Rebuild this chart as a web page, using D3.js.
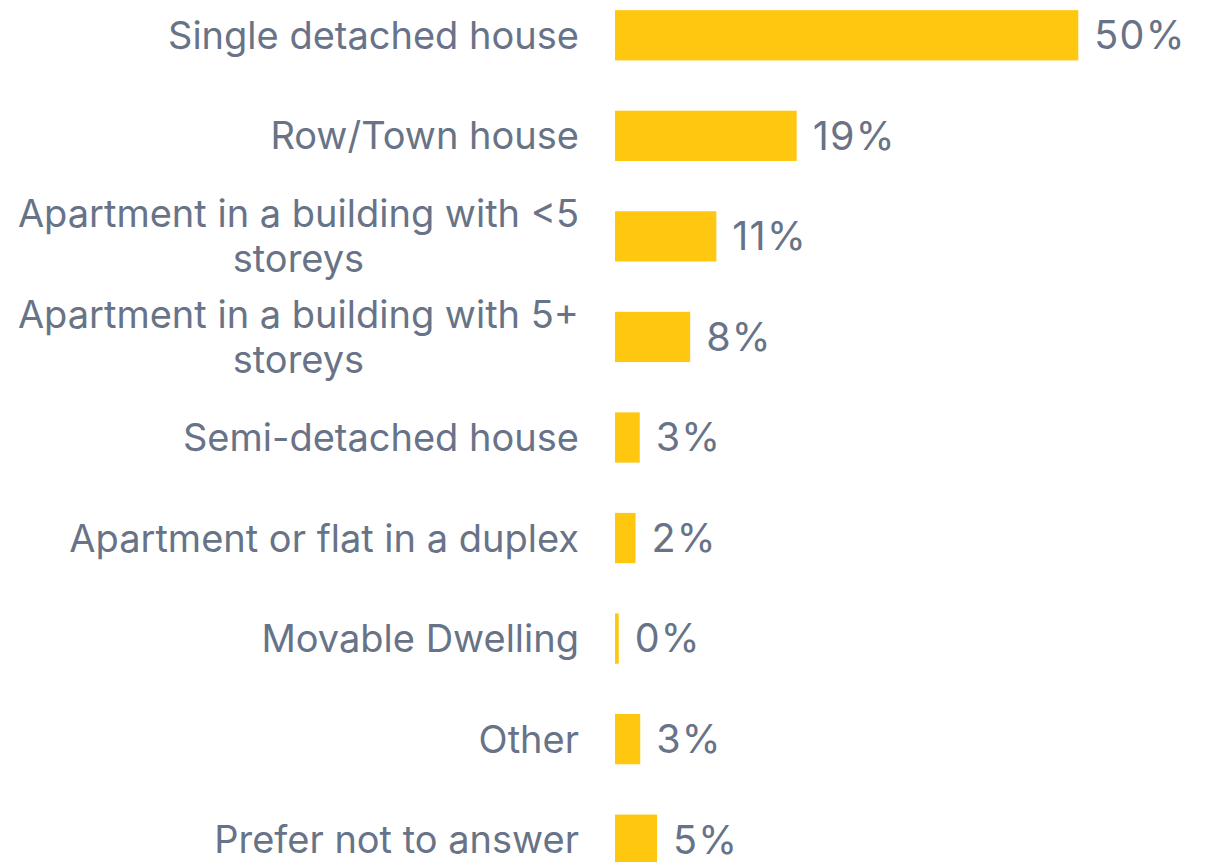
<!DOCTYPE html>
<html>
<head>
<meta charset="utf-8">
<script src="https://cdn.jsdelivr.net/npm/d3@7"></script>
<style>
  html, body { margin: 0; padding: 0; background: #ffffff; }
  svg { display: block; }
</style>
</head>
<body>
<svg id="chart" width="1214" height="862"></svg>
<script>
// Categories (label lines) in display order
const categories = [
  ["Single detached house"],
  ["Row/Town house"],
  ["Apartment in a building with <5", "storeys"],
  ["Apartment in a building with 5+", "storeys"],
  ["Semi-detached house"],
  ["Apartment or flat in a duplex"],
  ["Movable Dwelling"],
  ["Other"],
  ["Prefer not to answer"]
];
// Bar lengths (percent)
const values = [49.6, 19.45, 10.85, 8.05, 2.65, 2.2, 0.4, 2.7, 4.5];
// Printed value labels
const valueLabels = ["50%", "19%", "11%", "8%", "3%", "2%", "0%", "3%", "5%"];

const W = 1214, H = 862;
const FONT = "Inter, 'Noto Sans', sans-serif";
const FS = 38;
const FSV = 39.5;
const TEXT = "#687387";
const BAR = "#FFC710";

const svg = d3.select("#chart");
const ids = d3.range(categories.length);

const x = d3.scaleLinear().domain([0, values[0]]).range([615, 1078.3]);
const y = d3.scaleBand().domain(ids).range([-15, 890]).paddingInner(0.5).paddingOuter(0.25);

// bars
svg.append("g").selectAll("rect").data(ids).join("rect")
  .attr("x", x(0))
  .attr("y", i => y(i))
  .attr("width", i => x(values[i]) - x(0))
  .attr("height", y.bandwidth())
  .attr("fill", BAR);

// value labels
svg.append("g").selectAll("text").data(ids).join("text")
  .attr("x", i => x(values[i]) + 16)
  .attr("y", i => y(i) + y.bandwidth() / 2 + FSV * 0.35)
  .attr("font-family", FONT)
  .attr("font-size", FSV)
  .attr("letter-spacing", 1.2)
  .attr("fill", TEXT)
  .text(i => valueLabels[i]);

// category labels
const LABEL_RIGHT = 579;
const LINE_H = 45;
const gl = svg.append("g");
ids.forEach(i => {
  const lines = categories[i];
  const cy = y(i) + y.bandwidth() / 2;
  const base0 = cy + FS * 0.355 - (lines.length - 1) * LINE_H / 2;
  const t0 = gl.append("text")
    .attr("x", LABEL_RIGHT)
    .attr("y", base0)
    .attr("text-anchor", "end")
    .attr("font-family", FONT)
    .attr("font-size", FS)
    .attr("fill", TEXT)
    .text(lines[0]);
  const w0 = t0.node().getComputedTextLength();
  for (let k = 1; k < lines.length; k++) {
    gl.append("text")
      .attr("x", LABEL_RIGHT - w0 / 2)
      .attr("y", base0 + k * LINE_H)
      .attr("text-anchor", "middle")
      .attr("font-family", FONT)
      .attr("font-size", FS)
      .attr("fill", TEXT)
      .text(lines[k]);
  }
});
</script>
</body>
</html>
